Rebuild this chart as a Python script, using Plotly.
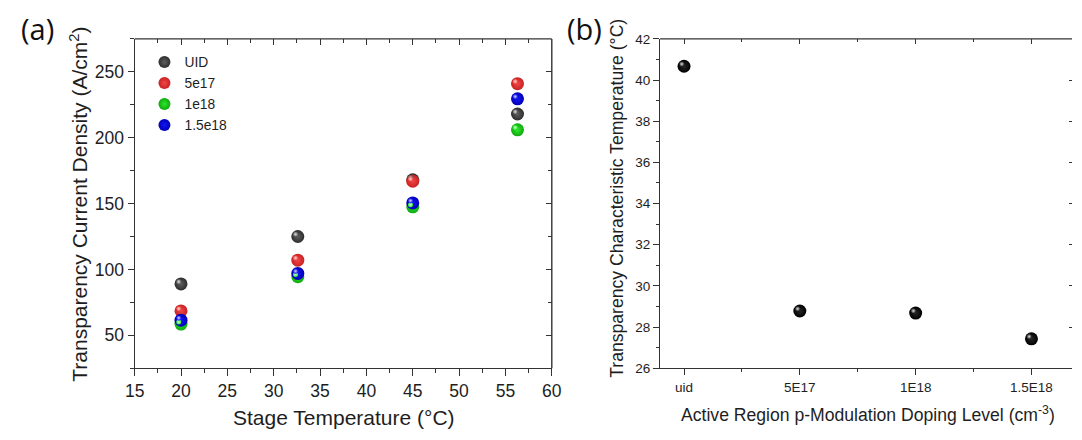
import plotly.graph_objects as go

# ---- panel (a): transparency current density vs stage temperature ----
stage_temp = [20, 32.6, 45, 56.3]
series_names = ["UID", "5e17", "1e18", "1.5e18"]
j_uid = [89, 125, 168, 218]
j_5e17 = [68.5, 107, 167, 241]
j_1e18 = [58.5, 94.5, 147.5, 206]
j_15e18 = [61.5, 97, 150.5, 229.5]

# ---- panel (b): characteristic temperature vs doping level ----
doping_labels = ["uid", "5E17", "1E18", "1.5E18"]
t_char = [40.67, 28.78, 28.68, 27.43]

# sphere shading per series: (rim, body, highlight)
series_colors = [("#2e2e2e", "#5e5e5e", "#e0e0e0"),
                 ("#c82222", "#f04646", "#ffd8d8"),
                 ("#10a810", "#2ae82a", "#d8ffd8"),
                 ("#0000b8", "#1414f4", "#d8d8ff")]
ball_b = ("#000000", "#262626", "#e0e0e0")

AX = "#333333"
TXT = "#1e1e1e"
FONT = "Liberation Sans, Arial, sans-serif"
W, H = 1082, 440

def px_x(p):
    return p / W

def px_y(p):
    return 1 - p / H

dom_a = [px_x(127), px_x(552)]
dom_b = [px_x(662.3), 1.0]
dom_y = [px_y(374), px_y(33)]

xr_a = [15, 60]
yr_a = [25, 275]
xr_b = [-0.207, 3.35]
yr_b = [26, 42]

# highlight spots sit a couple of pixels up-left of each ball centre:
# they are drawn on bare overlay axes whose ranges are shifted by that amount
SHIFT_PX = 2.3

def shifted(rng, dom, length_px, sign):
    span = rng[1] - rng[0]
    d = SHIFT_PX * span / ((dom[1] - dom[0]) * length_px) * sign
    return [rng[0] + d, rng[1] + d]

fig = go.Figure()

all_j = [j_uid, j_5e17, j_1e18, j_15e18]
for name, ys, (rim, body, hi) in zip(series_names, all_j, series_colors):
    fig.add_trace(go.Scatter(
        x=stage_temp, y=ys, mode="markers", name=name, legendgroup=name,
        xaxis="x", yaxis="y", hoverinfo="skip",
        marker=dict(size=13, color=rim, line=dict(width=0),
                    gradient=dict(type="radial", color=body)),
    ))
for name, ys, (rim, body, hi) in zip(series_names, all_j, series_colors):
    fig.add_trace(go.Scatter(
        x=stage_temp, y=ys, mode="markers", showlegend=False, legendgroup=name,
        xaxis="x5", yaxis="y5", hoverinfo="skip",
        marker=dict(size=5, color=body, line=dict(width=0),
                    gradient=dict(type="radial", color=hi)),
    ))

doping_pos = list(range(len(doping_labels)))
fig.add_trace(go.Scatter(
    x=doping_pos, y=t_char, mode="markers", showlegend=False,
    xaxis="x2", yaxis="y2", hoverinfo="skip",
    marker=dict(size=13, color=ball_b[0], line=dict(width=0),
                gradient=dict(type="radial", color=ball_b[1])),
))
fig.add_trace(go.Scatter(
    x=doping_pos, y=t_char, mode="markers", showlegend=False,
    xaxis="x6", yaxis="y6", hoverinfo="skip",
    marker=dict(size=5, color=ball_b[1], line=dict(width=0),
                gradient=dict(type="radial", color=ball_b[2])),
))

# transparent copies so the inward-tick frame axes (top / right) get drawn
for xa, ya, xs, ys in [("x3", "y", stage_temp, j_uid), ("x", "y3", stage_temp, j_uid),
                       ("x4", "y2", doping_pos, t_char), ("x2", "y4", doping_pos, t_char)]:
    fig.add_trace(go.Scatter(x=xs, y=ys, mode="markers", xaxis=xa, yaxis=ya,
                             marker=dict(opacity=0), showlegend=False, hoverinfo="skip"))

tick_font_a = dict(family=FONT, size=17.5, color=TXT)
tick_font_b = dict(family=FONT, size=13.5, color=TXT)

# overlay axes that carry only the highlight spots: nothing of them is drawn
bare = dict(showticklabels=False, ticks="", showline=False, showgrid=False,
            zeroline=False, fixedrange=True)

frame_line = dict(color=AX, width=1.4)

layout = dict(
    width=W, height=H,
    margin=dict(l=0, r=0, t=0, b=0),
    paper_bgcolor="white", plot_bgcolor="white",
    font=dict(family=FONT, color=TXT),
    # panel (a) axes
    xaxis=dict(domain=dom_a, range=xr_a, anchor="y", dtick=5, tick0=15,
               ticks="outside", ticklen=7, tickwidth=1.2, tickcolor=AX,
               showline=True, linecolor=AX, linewidth=1.3, showgrid=False,
               zeroline=False, tickfont=tick_font_a,
               minor=dict(dtick=2.5, ticks="outside", ticklen=4, tickcolor=AX, showgrid=False)),
    yaxis=dict(domain=dom_y, range=yr_a, anchor="x", tickvals=[50, 100, 150, 200, 250],
               ticks="outside", ticklen=6, tickwidth=1.2, tickcolor=AX,
               showline=True, linecolor=AX, linewidth=1.3, showgrid=False,
               zeroline=False, tickfont=tick_font_a,
               minor=dict(tickvals=[25, 75, 125, 175, 225, 275], ticks="outside",
                          ticklen=4, tickcolor=AX, showgrid=False)),
    xaxis3=dict(overlaying="x", side="top", anchor="y", range=xr_a, dtick=5, tick0=15,
                ticks="inside", ticklen=6, tickwidth=1.2, tickcolor=AX,
                showline=False, showgrid=False,
                zeroline=False, showticklabels=False,
                minor=dict(dtick=2.5, ticks="inside", ticklen=4, tickcolor=AX, showgrid=False)),
    yaxis3=dict(overlaying="y", side="right", anchor="x", range=yr_a,
                tickvals=[50, 100, 150, 200, 250],
                ticks="inside", ticklen=6, tickwidth=1.2, tickcolor=AX,
                showline=False, showgrid=False,
                zeroline=False, showticklabels=False,
                minor=dict(tickvals=[25, 75, 125, 175, 225, 275], ticks="inside",
                           ticklen=4, tickcolor=AX, showgrid=False)),
    xaxis5=dict(overlaying="x", anchor="y5", range=shifted(xr_a, dom_a, W, +1), **bare),
    yaxis5=dict(overlaying="y", anchor="x5", range=shifted(yr_a, dom_y, H, -1), **bare),
    # panel (b) axes
    xaxis2=dict(domain=dom_b, range=xr_b, anchor="y2",
                tickvals=doping_pos, ticktext=doping_labels,
                ticks="outside", ticklen=6, tickwidth=1.2, tickcolor=AX,
                showline=True, linecolor=AX, linewidth=1.3, showgrid=False,
                zeroline=False, tickfont=tick_font_b,
                minor=dict(tickvals=[0.5, 1.5, 2.5], ticks="outside", ticklen=3,
                           tickcolor=AX, showgrid=False)),
    yaxis2=dict(domain=dom_y, range=yr_b, anchor="x2", dtick=2, tick0=26,
                ticks="outside", ticklen=6, tickwidth=1.2, tickcolor=AX,
                showline=True, linecolor=AX, linewidth=1.3, showgrid=False,
                zeroline=False, tickfont=tick_font_b,
                minor=dict(dtick=1, ticks="outside", ticklen=3, tickcolor=AX, showgrid=False)),
    xaxis4=dict(overlaying="x2", side="top", anchor="y2", range=xr_b,
                tickvals=doping_pos, ticks="inside", ticklen=5, tickwidth=1.2, tickcolor=AX,
                showline=False, showgrid=False,
                zeroline=False, showticklabels=False,
                minor=dict(tickvals=[0.5, 1.5, 2.5], ticks="inside", ticklen=3,
                           tickcolor=AX, showgrid=False)),
    yaxis4=dict(overlaying="y2", side="right", anchor="x2", range=yr_b, dtick=2, tick0=26,
                ticks="inside", ticklen=3, tickwidth=1.2, tickcolor=AX,
                showline=False, showgrid=False, zeroline=False, showticklabels=False),
    xaxis6=dict(overlaying="x2", anchor="y6", range=shifted(xr_b, dom_b, W, +1), **bare),
    yaxis6=dict(overlaying="y2", anchor="x6", range=shifted(yr_b, dom_y, H, -1), **bare),
    legend=dict(x=px_x(137), y=px_y(41), xanchor="left", yanchor="top",
                bgcolor="rgba(0,0,0,0)", borderwidth=0,
                font=dict(family=FONT, size=13.8, color=TXT),
                tracegroupgap=0, itemsizing="constant", itemclick=False),
    showlegend=True,
    # closing frame lines: top and right of panel (a), top of panel (b)
    shapes=[
        dict(type="line", xref="paper", yref="paper",
             x0=dom_a[0], x1=dom_a[1], y0=dom_y[1], y1=dom_y[1], line=frame_line),
        dict(type="line", xref="paper", yref="paper",
             x0=dom_a[1], x1=dom_a[1], y0=dom_y[0], y1=dom_y[1], line=frame_line),
        dict(type="line", xref="paper", yref="paper",
             x0=dom_b[0], x1=dom_b[1], y0=dom_y[1], y1=dom_y[1], line=frame_line),
    ],
)
fig.update_layout(**layout)

annotations = [
    dict(text="(a)", x=px_x(9), y=px_y(22), xanchor="left",
         font=dict(family="Open Sans, sans-serif", size=29, color="#111")),
    dict(text="(b)", x=px_x(565), y=px_y(22), xanchor="left",
         font=dict(family="Open Sans, sans-serif", size=29, color="#111")),
    dict(text="Stage Temperature (°C)", x=px_x(340), y=px_y(425),
         font=dict(family=FONT, size=21, color=TXT)),
    dict(text="Transparency Current Density (A/cm<sup>2</sup>)", x=px_x(70), y=px_y(204),
         textangle=-90, font=dict(family=FONT, size=21, color=TXT)),
    dict(text="Active Region p-Modulation Doping Level (cm<sup>-3</sup>)", x=px_x(874), y=px_y(421),
         font=dict(family=FONT, size=17.6, color=TXT)),
    dict(text="Transparency Characteristic Temperature (°C)", x=px_x(619), y=px_y(198),
         textangle=-90, font=dict(family=FONT, size=17.6, color=TXT)),
]
for a in annotations:
    a.setdefault("xanchor", "center")
    a.update(xref="paper", yref="paper", yanchor="middle", showarrow=False)
fig.update_layout(annotations=annotations)

fig.write_html("out.html")
